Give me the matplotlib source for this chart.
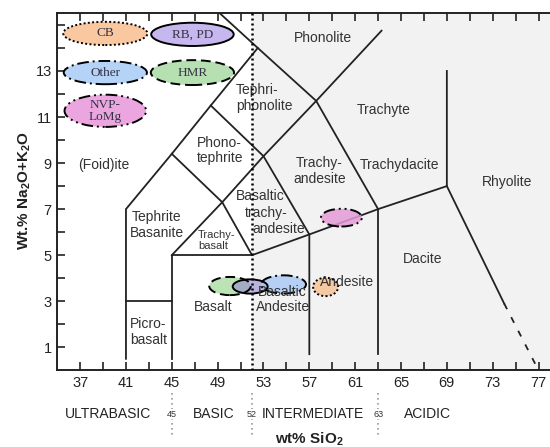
import matplotlib
matplotlib.use("Agg")
import matplotlib.pyplot as plt
from matplotlib.patches import Ellipse
import numpy as np

plt.rcParams['font.family'] = ['Liberation Sans', 'DejaVu Sans']
plt.rcParams['mathtext.fontset'] = 'custom'
plt.rcParams['mathtext.rm'] = 'Liberation Sans'
plt.rcParams['mathtext.bf'] = 'Liberation Sans:bold'

# TAS field boundaries (SiO2, Na2O+K2O)
solid_bounds = [
    [(41, 0.5), (41, 7), (45, 9.4), (48.4, 11.5), (52.5, 14)],
    [(49.2, 15.5), (52.5, 14), (57.6, 11.7), (63, 7)],
    [(45, 0.5), (45, 5), (52, 5)],
    [(41, 3), (45, 3)],
    [(45, 5), (49.4, 7.3), (53, 9.3), (57.6, 11.7), (63.3, 14.75)],
    [(45, 9.4), (49.4, 7.3), (52, 5), (57, 5.9), (63, 7), (69, 8), (69, 13)],
    [(48.4, 11.5), (53, 9.3), (57, 5.9), (57, 0.7)],
    [(63, 7), (63, 0.7)],
    [(69, 8), (74, 2.9)],
]
dashed_bound = [(74, 2.9), (77, 0)]

# field labels: text, x, y, ha, size
field_labels = [
    ("Phonolite", 58.2, 14.44, 'center', 10),
    ("Tephri-\nphonolite", 50.6, 11.82, 'left', 10),
    ("Phono-\ntephrite", 47.2, 9.54, 'left', 10),
    ("(Foid)ite", 39.05, 8.92, 'center', 10),
    ("Tephrite\nBasanite", 43.7, 6.3, 'center', 10),
    ("Trachy-\nbasalt", 47.3, 5.64, 'left', 8),
    ("Basaltic", 50.6, 7.55, 'left', 10),
    ("trachy-", 51.33, 6.83, 'left', 10),
    ("andesite", 52.05, 6.15, 'left', 10),
    ("Trachy-\nandesite", 57.9, 8.65, 'center', 10),
    ("Trachyte", 63.45, 11.3, 'center', 10),
    ("Trachydacite", 64.9, 8.92, 'center', 10),
    ("Rhyolite", 74.26, 8.17, 'center', 10),
    ("Dacite", 66.9, 4.85, 'center', 10),
    ("Basalt", 48.6, 2.75, 'center', 10),
    ("Picro-\nbasalt", 41.37, 1.65, 'left', 10),
]

# group key ellipses (top left)
key_names = ["CB", "RB, PD", "Other", "HMR", "NVP-\nLoMg"]
key_x = [39.2, 46.8, 39.2, 46.8, 39.2]
key_y = [14.63, 14.59, 12.93, 12.93, 11.27]
key_w = [7.35, 7.2, 7.26, 7.26, 7.12]
key_h = [1.01, 1.01, 1.01, 1.08, 1.4]
key_colors = ['#f9c8a0', '#c6b8ee', '#b5d2f7', '#b6e0b2', '#eba6df']
key_styles = [(0, (1, 1.2)), '-', (0, (6, 2, 1, 2)), (0, (5, 2.5)), (0, (6, 2, 1, 2, 1, 2))]

# sample ellipses in the diagram (same order as key)
samp_x = [58.42, 51.84, 54.75, 50.08, 59.8]
samp_y = [3.62, 3.64, 3.73, 3.66, 6.63]
samp_w = [2.18, 3.05, 3.92, 3.63, 3.57]
samp_h = [0.8, 0.62, 0.79, 0.79, 0.77]

class_names = ["ULTRABASIC", "BASIC", "INTERMEDIATE", "ACIDIC"]
class_x = [39.46, 48.69, 57.32, 67.29]
class_bounds = [45, 52, 63]

fig = plt.figure(figsize=(5.5, 4.47), dpi=100)
ax = fig.add_axes([0.104, 0.1716, 0.896, 0.7984])
ax.set_xlim(35, 78)
ax.set_ylim(0, 15.5)

ax.axvspan(52, 78, color='#f2f2f2', lw=0, zorder=0)
ax.axvline(52, color='k', lw=1.8, ls=(0, (0.8, 1.2)), zorder=4)

lc = '#222222'
for b in solid_bounds:
    xs, ys = zip(*b)
    ax.plot(xs, ys, color=lc, lw=1.3, zorder=2, solid_joinstyle='miter')
xs, ys = zip(*dashed_bound)
ax.plot(xs, ys, color=lc, lw=1.3, ls=(0, (3.5, 5)), zorder=2)

for t, x, y, ha, fs in field_labels:
    ax.text(x, y, t, ha=ha, va='center', fontsize=fs, color='#333333',
            multialignment=ha if ha != 'center' else 'center', linespacing=1.15, zorder=3)

# key ellipses
for i in range(len(key_names)):
    e = Ellipse((key_x[i], key_y[i]), key_w[i], key_h[i], facecolor=key_colors[i],
                edgecolor='k', lw=1.4, ls=key_styles[i], zorder=5)
    ax.add_patch(e)
    ax.text(key_x[i], key_y[i], key_names[i], ha='center', va='center', fontsize=9.5,
            family='Liberation Serif', color='#333344', linespacing=1.05, zorder=6)

# sample ellipses (drawn under the Basaltic Andesite / Andesite labels)
draw_order = [3, 1, 2, 4, 0]
samp_alpha = [0.8, 0.55, 0.8, 0.85, 0.85]
samp_fc = ['#f7bf8e', '#8f80d0', '#a6c8f5', '#b0dea9', '#e49ad8']
for i in draw_order:
    e = Ellipse((samp_x[i], samp_y[i]), samp_w[i], samp_h[i], facecolor=samp_fc[i],
                alpha=samp_alpha[i], edgecolor='none', zorder=3.5)
    ax.add_patch(e)
    e2 = Ellipse((samp_x[i], samp_y[i]), samp_w[i], samp_h[i], facecolor='none',
                 edgecolor='k', lw=1.4, ls=key_styles[i], zorder=3.6)
    ax.add_patch(e2)

ax.text(60.25, 3.84, "Andesite", ha='center', va='center', fontsize=10, color='#333333', zorder=4)
ax.text(54.67, 3.08, "Basaltic\nAndesite", ha='center', va='center', fontsize=10,
        color='#333333', linespacing=1.15, zorder=4)

# axes styling
ax.set_xticks(np.arange(37, 78, 4))
ax.set_xticks(np.arange(37, 78, 2), minor=True)
ax.set_yticks(np.arange(1, 14, 2))
ax.set_yticks(np.arange(1, 16, 1), minor=True)
ax.tick_params(which='both', direction='in', length=6, width=1.2, color='#222222',
               top=True, labelsize=10.5, labelcolor='#222222')
ax.tick_params(axis='x', pad=4)
ax.tick_params(axis='y', pad=4)
for s in ['left', 'bottom', 'top']:
    ax.spines[s].set_linewidth(1.4)
    ax.spines[s].set_color('#222222')
ax.spines['right'].set_visible(False)

# SiO2 classes below axis
for x, n in zip(class_x, class_names):
    ax.text(x, -1.9, n, ha='center', va='center', fontsize=10, color='#222222', clip_on=False)
for b in class_bounds:
    ax.plot([b, b], [-1.0, -2.85], color='#999999', lw=1.2, ls=(0, (1, 2)), clip_on=False)
    ax.text(b, -1.9, str(b), ha='center', va='center', fontsize=6.5, color='#333333',
            clip_on=False, bbox=dict(facecolor='white', edgecolor='none', pad=0.3))

fig.text(0.562, 0.017, r'wt% SiO$_\mathbf{2}$', ha='center', va='center',
         fontsize=11, fontweight='bold', color='#222222')
fig.text(0.045, 0.575, r'Wt.% Na$_\mathbf{2}$O+K$_\mathbf{2}$O', ha='center', va='center',
         rotation=90, fontsize=11, fontweight='bold', color='#222222')

fig.savefig('out.png', dpi=100)
